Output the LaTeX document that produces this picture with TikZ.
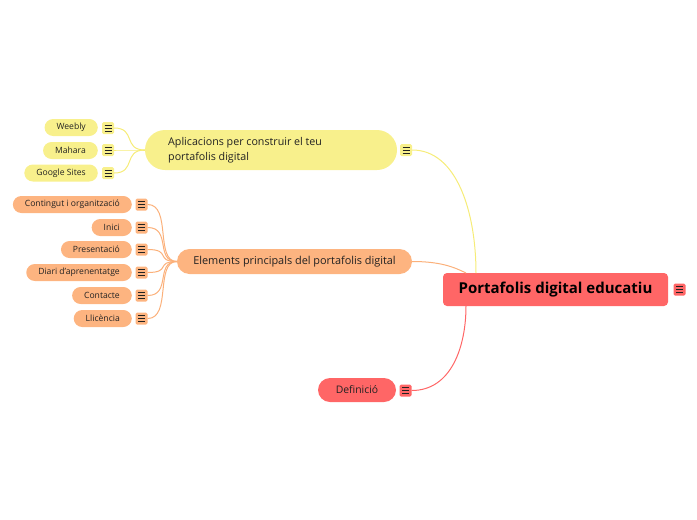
\documentclass[tikz,border=0pt]{standalone}
\usepackage{fontspec}
\setmainfont{Open Sans}
\definecolor{ylw}{HTML}{F8F08C}
\definecolor{ylwline}{HTML}{F6EC78}
\definecolor{org}{HTML}{FDB480}
\definecolor{orgline}{HTML}{FBB07A}
\definecolor{rd}{HTML}{FF6666}
\definecolor{txt}{HTML}{222222}
\begin{document}
\begin{tikzpicture}[x=1pt,y=-1pt,
  menu/.style={fill=#1, minimum width=12pt, minimum height=12pt, inner sep=0pt, rounded corners=1.5pt,
    path picture={\foreach \d in {-3,0,3}{\draw[line width=0.8pt,txt] ([xshift=-3.5pt,yshift=\d pt]path picture bounding box.center) -- ++(7pt,0pt);}}},
  leaf/.style={fill=#1, text=txt, font=\fontsize{8.6}{10}\selectfont, minimum height=17pt, inner xsep=12pt, inner ysep=0pt, rounded corners=8.5pt, anchor=east},
  conn/.style={line width=1pt, draw=#1},
]
\useasboundingbox (0,0) rectangle (697,520);

% root
\node[fill=rd, minimum width=225pt, minimum height=33pt, rounded corners=4pt, text=black, font=\fontsize{15}{17}\selectfont\bfseries] (root) at (555.5,289.5) {Portafolis digital educatiu};
\node[menu=rd] (iroot) at (679.5,289.5) {};
\coordinate (rtop1) at (476,273);
\coordinate (rtop2) at (466,273);
\coordinate (rbot) at (466,306);

% yellow branch
\node[fill=ylw, minimum width=252pt, minimum height=40pt, rounded corners=20pt] (apps) at (271,150) {};
\node[anchor=west, text=txt, align=left, font=\fontsize{10.7}{14.5}\selectfont, inner sep=0pt] (appstxt) at (168,150) {Aplicacions per construir el teu\\portafolis digital};
\node[menu=ylw] (iapps) at (406,150) {};

\node[leaf=ylw] (weebly) at (98,127.5) {Weebly};
\node[leaf=ylw] (mahara) at (98,150.5) {Mahara};
\node[leaf=ylw] (google) at (98,173) {Google Sites};
\node[menu=ylw] (iweebly) at (108,128) {};
\node[menu=ylw] (imahara) at (108,150) {};
\node[menu=ylw] (igoogle) at (108,173) {};

% orange branch
\node[fill=org, minimum width=235pt, minimum height=25pt, rounded corners=12.5pt, text=txt, font=\fontsize{10.9}{12}\selectfont] (elem) at (294.5,261.5) {Elements principals del portafolis digital};

\node[leaf=org] (cont) at (132,204.5) {Contingut i organització};
\node[leaf=org] (inici) at (132,227.5) {Inici};
\node[leaf=org] (pres) at (132,249.5) {Presentació};
\node[leaf=org] (diari) at (132,272.5) {Diari d'aprenentatge};
\node[leaf=org] (contac) at (132,295.5) {Contacte};
\node[leaf=org] (llic) at (132,318.5) {Llicència};
\node[menu=org] (icont) at (141.5,204.5) {};
\node[menu=org] (iinici) at (141.5,227.5) {};
\node[menu=org] (ipres) at (141.5,249.5) {};
\node[menu=org] (idiari) at (141.5,272.5) {};
\node[menu=org] (icontac) at (141.5,295.5) {};
\node[menu=org] (illic) at (141.5,318.5) {};

% red branch
\node[fill=rd, minimum width=78pt, minimum height=24pt, rounded corners=12pt, text=txt, font=\fontsize{10.4}{12}\selectfont] (def) at (357,390) {Definició};
\node[menu=rd] (idef) at (405.5,390.5) {};

% connectors to root
\draw[conn=ylwline] (iapps.east) .. controls +(45,0) and +(0,-60) .. (rtop1);
\draw[conn=orgline] (elem.east) .. controls +(28,0) and +(-12,-6) .. (rtop2);
\draw[conn=rd] (idef.east) .. controls +(40,0) and +(0,40) .. (rbot);

% yellow children
\foreach \i in {iweebly,imahara,igoogle}
  \draw[conn=ylwline] (\i.east) .. controls +(22,0) and +(-22,0) .. (apps.west);
% orange children
\foreach \i in {icont,iinici,ipres,idiari,icontac,illic}
  \draw[conn=orgline] (\i.east) .. controls +(24,0) and +(-22,0) .. (elem.west);
\end{tikzpicture}
\end{document}
